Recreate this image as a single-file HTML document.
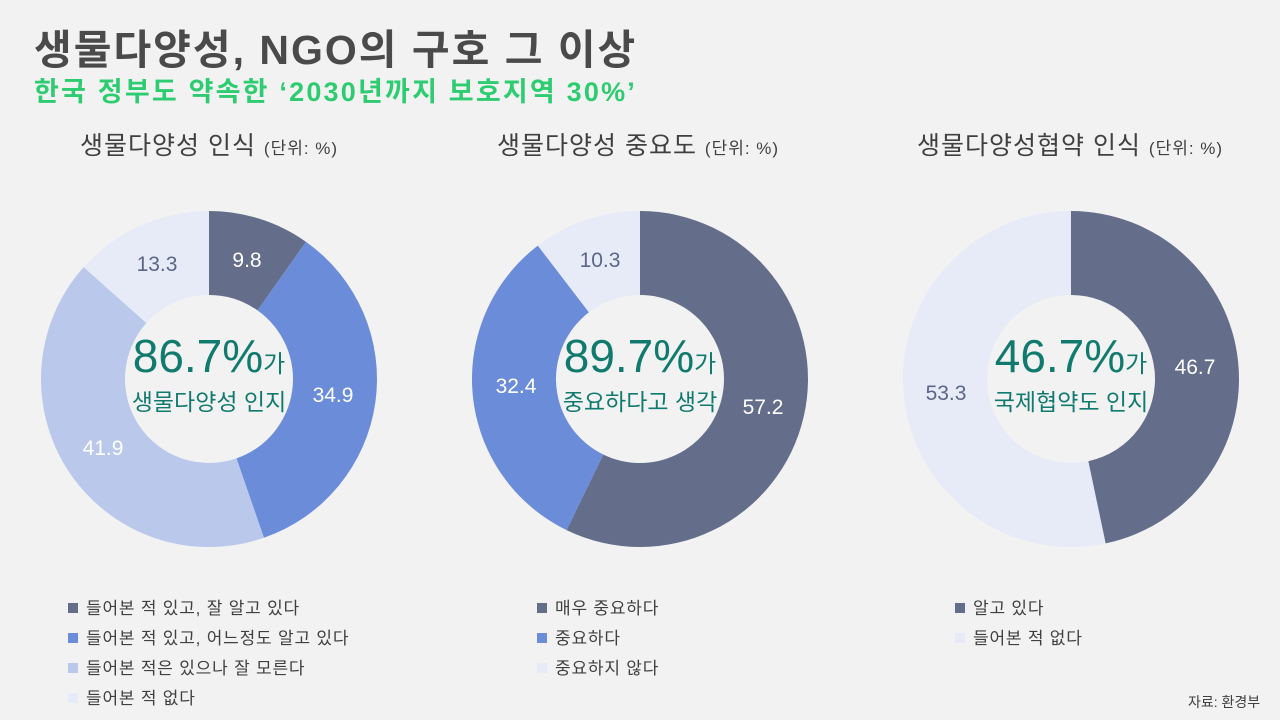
<!DOCTYPE html>
<html><head><meta charset="utf-8"><style>
body{margin:0;width:1280px;height:720px;background:#f2f2f2;overflow:hidden;font-family:"Liberation Sans","Noto Sans CJK KR",sans-serif;}
.t{position:absolute;white-space:nowrap;}
.leg{position:absolute;font-size:17px;color:#404040;white-space:nowrap;letter-spacing:0.8px}
.leg span{display:inline-block;width:10px;height:10px;margin-right:8px;vertical-align:1px}
</style></head><body>
<div class="t" style="left:34px;top:16px;font-size:41px;font-weight:bold;color:#4a4a4a;letter-spacing:2px">생물다양성, NGO의 구호 그 이상</div>
<div class="t" style="left:34px;top:70px;font-size:27px;font-weight:bold;color:#2ecc71;letter-spacing:2.2px">한국 정부도 약속한 ‘2030년까지 보호지역 30%’</div>
<div class="t" style="left:80px;top:126px;font-size:25px;color:#404040;letter-spacing:1px">생물다양성 인식 <span style="font-size:17px">(단위: %)</span></div>
<div class="t" style="left:497px;top:126px;font-size:25px;color:#404040;letter-spacing:1px">생물다양성 중요도 <span style="font-size:17px">(단위: %)</span></div>
<div class="t" style="left:917px;top:126px;font-size:25px;color:#404040;letter-spacing:1px">생물다양성협약 인식 <span style="font-size:17px">(단위: %)</span></div>
<svg id="s" width="1280" height="720" style="position:absolute;left:0;top:0"></svg>
<div class="leg" style="left:68px;top:594px"><span style="background:#646e8a"></span>들어본 적 있고, 잘 알고 있다</div>
<div class="leg" style="left:68px;top:624px"><span style="background:#6b8cd8"></span>들어본 적 있고, 어느정도 알고 있다</div>
<div class="leg" style="left:68px;top:654px"><span style="background:#b9c8eb"></span>들어본 적은 있으나 잘 모른다</div>
<div class="leg" style="left:68px;top:684px"><span style="background:#e6ebf7"></span>들어본 적 없다</div>
<div class="leg" style="left:537px;top:594px"><span style="background:#646e8a"></span>매우 중요하다</div>
<div class="leg" style="left:537px;top:624px"><span style="background:#6b8cd8"></span>중요하다</div>
<div class="leg" style="left:537px;top:654px"><span style="background:#e6ebf7"></span>중요하지 않다</div>
<div class="leg" style="left:955px;top:594px"><span style="background:#646e8a"></span>알고 있다</div>
<div class="leg" style="left:955px;top:624px"><span style="background:#e6ebf7"></span>들어본 적 없다</div>
<div class="t" style="left:1188px;top:692px;font-size:14px;color:#404040">자료: 환경부</div>
<script>
var s=document.getElementById('s'),h='';
function donut(cx,cy,data,cols){var a=0,R=168,r=84;
data.forEach(function(v,i){var a0=a,a1=a+v/100*2*Math.PI;a=a1;
function p(rad,t){return [cx+rad*Math.sin(t),cy-rad*Math.cos(t)];}
var l=(a1-a0)>Math.PI?1:0,A=p(R,a0),B=p(R,a1),C=p(r,a1),D=p(r,a0);
h+='<path d="M'+A+' A'+R+','+R+' 0 '+l+' 1 '+B+' L'+C+' A'+r+','+r+' 0 '+l+' 0 '+D+'Z" fill="'+cols[i]+'"/>';});}
var c=['#646e8a','#6b8cd8','#b9c8eb','#e6ebf7'];
donut(209,379,[9.8,34.9,41.9,13.4],c);
donut(640,379,[57.2,32.4,10.4],['#646e8a','#6b8cd8','#e6ebf7']);
donut(1071,379,[46.7,53.3],['#646e8a','#e6ebf7']);
function tx(x,y,t,col){h+='<text x="'+x+'" y="'+y+'" font-size="21" fill="'+col+'" text-anchor="middle" font-family="Liberation Sans">'+t+'</text>';}
tx(247,267,'9.8','#fff');tx(157,271,'13.3','#5c6688');tx(333,402,'34.9','#fff');tx(103,455,'41.9','#fff');
tx(600,267,'10.3','#5c6688');tx(516,393,'32.4','#fff');tx(763,414,'57.2','#fff');
tx(1195,374,'46.7','#fff');tx(946,400,'53.3','#5c6688');
function ctr(cx,big,small){h+='<text x="'+cx+'" y="372" text-anchor="middle" fill="#117a6e" font-family="Liberation Sans,Noto Sans CJK KR,sans-serif"><tspan font-size="46">'+big+'</tspan><tspan font-size="24">가</tspan></text>';
h+='<text x="'+cx+'" y="410" text-anchor="middle" fill="#117a6e" font-size="23" font-family="Liberation Sans,Noto Sans CJK KR,sans-serif">'+small+'</text>';}
ctr(209,'86.7%','생물다양성 인지');ctr(640,'89.7%','중요하다고 생각');ctr(1071,'46.7%','국제협약도 인지');
s.innerHTML=h;
</script>
</body></html>
